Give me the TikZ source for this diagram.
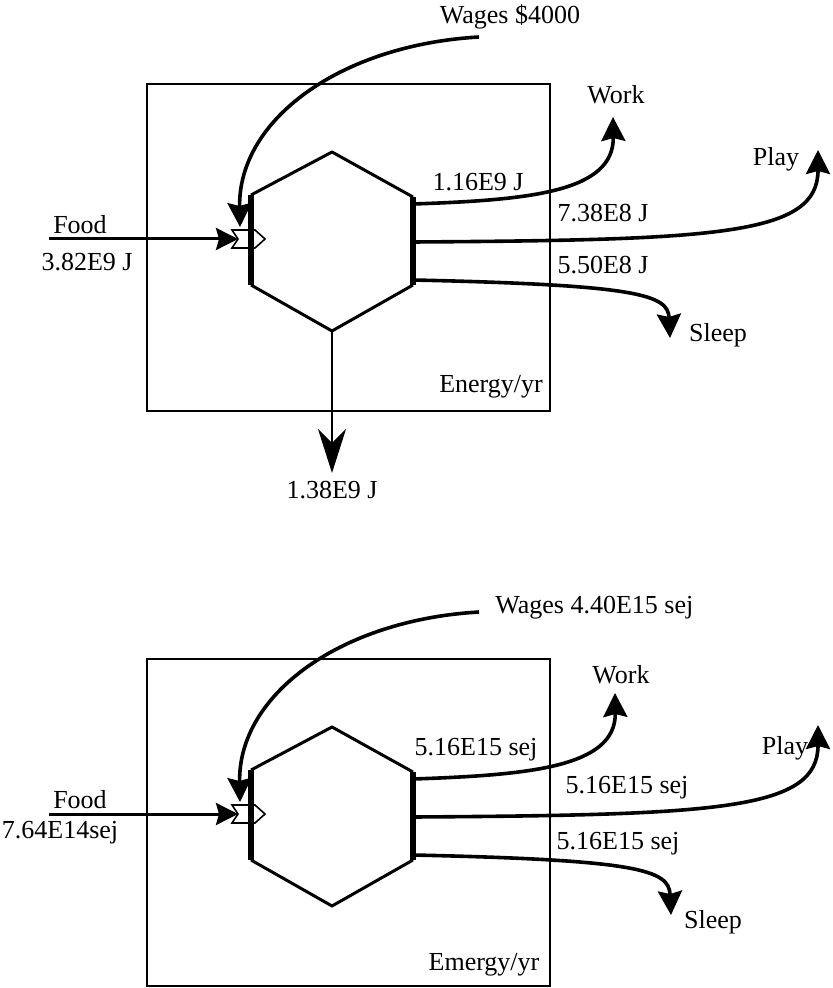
\documentclass[tikz,border=0pt]{standalone}
\usepackage{fontspec}
\setmainfont{Liberation Serif}
\usetikzlibrary{arrows.meta}

\begin{document}
\begin{tikzpicture}[
    x=0.5pt, y=-0.5pt,
    every node/.style={font=\fontsize{13}{15}\selectfont, inner sep=0pt},
    frame/.style={draw, line width=1.2pt},
    hexside/.style={line width=1.5pt, line join=round},
    hexport/.style={line width=2.6pt},
    heavy/.style={line width=1.8pt, -{Stealth[length=12pt,width=12pt,inset=1.5pt]}},
    inflow/.style={line width=1.5pt, -{Stealth[length=11pt,width=11pt,inset=1.5pt]}},
    sink/.style={line width=1pt, -{Stealth[length=22pt,width=14pt,inset=7pt]}},
    gate/.style={draw, fill=white, line width=0.8pt, line join=miter}
]
\useasboundingbox (0,0) rectangle (832,988);

% ---------------- energy diagram ----------------
\begin{scope}[name prefix=e-]
% system frame
\draw[frame] (147,84) rectangle (550,411);
\node (boxlab) at (491,387) {Energy/yr};

% interaction gate (drawn first, hexagon edge goes over it)
\coordinate (gate) at (238,239);
\draw[gate] (232,230) -- (255,230) -- (265,239) -- (255,248) -- (232,248) -- (gate) -- cycle;

% hexagon corners
\coordinate (top) at (332,152);
\coordinate (ur) at (413,197);
\coordinate (lr) at (413,285);
\coordinate (bot) at (332,331);
\coordinate (ll) at (251,285);
\coordinate (ul) at (251,195);
\draw[hexside] (ul) -- (top) -- (ur) (lr) -- (bot) -- (ll);
\draw[hexport] (ul) -- (ll) (ur) -- (lr);

% food input
\node (food) at (80,225) {Food};
\node (foodval) at (87,262) {3.82E9 J};
\coordinate (foodin) at (49,239);
\draw[inflow] (foodin) -- (gate);

% wages
\node (wages) at (510,17) {Wages \$4000};
\coordinate (wagesin) at (479,37);
\coordinate (wagestip) at (240,227);
\draw[heavy] (wagesin) .. controls (340,45) and (238,120) .. (wagestip);

% outputs
\coordinate (workout) at (413,204);
\coordinate (playout) at (413,242);
\coordinate (sleepout) at (413,280);
\coordinate (worktip) at (613,117);
\coordinate (playtip) at (818,150);
\coordinate (sleeptip) at (670,338);
\draw[heavy] (workout) .. controls (530,200) and (614,192) .. (worktip);
\draw[heavy] (playout) .. controls (720,240) and (818,235) .. (playtip);
\draw[heavy] (sleepout) .. controls (640,285) and (668,295) .. (sleeptip);
\node (work) at (616,95) {Work};
\node (play) at (776,159) {Play};
\node (sleep) at (718,335) {Sleep};
\node (workval) at (478,182) {1.16E9 J};
\node (playval) at (603,213) {7.38E8 J};
\node (sleepval) at (603,265) {5.50E8 J};

% heat sink
\coordinate (sinktip) at (332,473);
\draw[sink] (bot) -- (sinktip);
\node (sinkval) at (332,490) {1.38E9 J};
\end{scope}

% ---------------- emergy diagram ----------------
\begin{scope}[shift={(0,575)}, name prefix=m-]
% system frame
\draw[frame] (147,84) rectangle (550,411);
\node (boxlab) at (484,390) {Emergy/yr};

% interaction gate
\coordinate (gate) at (238,239);
\draw[gate] (232,230) -- (255,230) -- (265,239) -- (255,248) -- (232,248) -- (gate) -- cycle;

% hexagon corners
\coordinate (top) at (332,152);
\coordinate (ur) at (413,197);
\coordinate (lr) at (413,285);
\coordinate (bot) at (332,331);
\coordinate (ll) at (251,285);
\coordinate (ul) at (251,195);
\draw[hexside] (ul) -- (top) -- (ur) (lr) -- (bot) -- (ll);
\draw[hexport] (ul) -- (ll) (ur) -- (lr);

% food input
\node (food) at (80,225) {Food};
\node (foodval) at (60,258) {7.64E14sej};
\coordinate (foodin) at (49,239);
\draw[inflow] (foodin) -- (gate);

% wages
\node[anchor=west] (wages) at (495,33) {Wages 4.40E15 sej};
\coordinate (wagesin) at (479,37);
\coordinate (wagestip) at (240,227);
\draw[heavy] (wagesin) .. controls (340,45) and (238,120) .. (wagestip);

% outputs
\coordinate (workout) at (413,204);
\coordinate (playout) at (413,242);
\coordinate (sleepout) at (413,280);
\coordinate (worktip) at (615,118);
\coordinate (playtip) at (818,150);
\coordinate (sleeptip) at (671,340);
\draw[heavy] (workout) .. controls (530,200) and (616,192) .. (worktip);
\draw[heavy] (playout) .. controls (720,240) and (818,235) .. (playtip);
\draw[heavy] (sleepout) .. controls (640,285) and (669,295) .. (sleeptip);
\node (work) at (621,100) {Work};
\node (play) at (785,173) {Play};
\node (sleep) at (713,347) {Sleep};
\node (workval) at (476,175) {5.16E15 sej};
\node (playval) at (627,213) {5.16E15 sej};
\node (sleepval) at (618,269) {5.16E15 sej};
\end{scope}
\end{tikzpicture}
\end{document}
